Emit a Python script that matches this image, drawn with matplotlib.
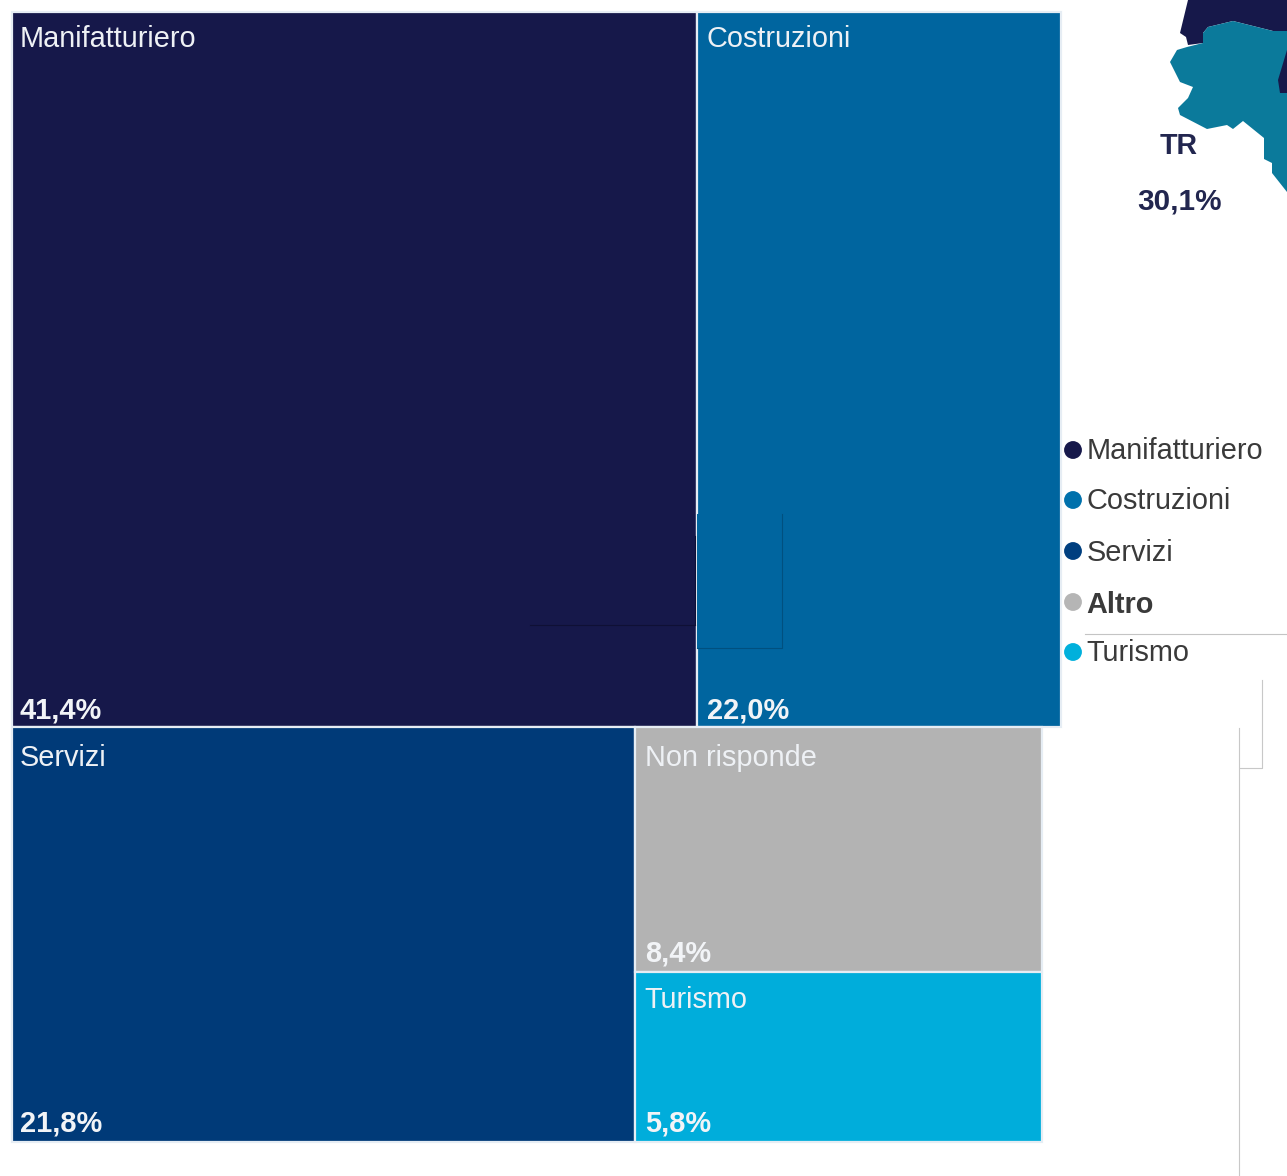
import matplotlib.pyplot as plt
from matplotlib.patches import Rectangle, Polygon

plt.rcParams['font.family'] = ['Liberation Sans', 'DejaVu Sans']

# tile values, %
top_names = ["Manifatturiero", "Costruzioni"]
top_values = [41.4, 22.0]
top_colors = ["#16184A", "#00659F"]
left_name = "Servizi"
left_value = 21.8
left_color = "#003A78"
stack_names = ["Non risponde", "Turismo"]
stack_values = [8.4, 5.8]
stack_colors = ["#B3B3B3", "#00ADDB"]

legend_names = ["Manifatturiero", "Costruzioni", "Servizi", "Altro", "Turismo"]
legend_colors = ["#16184A", "#0071AC", "#003F7F", "#B5B5B5", "#00B0DC"]
legend_y = [450, 500, 551, 602, 652]
legend_text_y = [451, 501, 553, 605, 653]
legend_bold = [False, False, False, True, False]

region_name = "TR"
region_value = "30,1%"

W, H = 1287, 1176
AREA_TOP = 11845.0  # px^2 per percentage point
AREA_BOTTOM = 11860.0
X0, Y0 = 11.5, 11.5
TOP_H = 715.5
BOTTOM_H = 414.5

fig = plt.figure(figsize=(W / 100, H / 100), dpi=100)
ax = fig.add_axes([0, 0, 1, 1])
ax.set_xlim(0, W)
ax.set_ylim(H, 0)
ax.axis("off")


def fmt(v):
    return f"{v:.1f}".replace(".", ",") + "%"


def tile(x, y, w, h, name, value, color, name_off, pct_off, inset=8.5):
    ax.add_patch(Rectangle((x, y), w, h, fc=color, ec="#E6EDF4", lw=1.6, zorder=2))
    ax.text(x + inset, y + name_off, name, color="#EEF1F5", fontsize=20.8,
            va="center", ha="left", zorder=5)
    ax.text(x + inset, y + h - pct_off, fmt(value), color="#F2F4F7", fontsize=20.9,
            fontweight="bold", va="center", ha="left", zorder=5)


# top row
x = X0
for n, v, c, ins in zip(top_names, top_values, top_colors, [8.5, 10.0]):
    w = v * AREA_TOP / TOP_H
    tile(x, Y0, w, TOP_H, n, v, c, 27.5, 16.5, ins)
    x += w

# bottom row
y1 = Y0 + TOP_H
w = left_value * AREA_BOTTOM / BOTTOM_H
tile(X0, y1, w, BOTTOM_H, left_name, left_value, left_color, 30.5, 17.5)
x = X0 + w
stack_w = sum(stack_values) * AREA_BOTTOM / BOTTOM_H
y = y1
for n, v, c, no, po in zip(stack_names, stack_values, stack_colors, [30.5, 27.5], [18.5, 17.5]):
    h = v * AREA_BOTTOM / stack_w
    tile(x, y, stack_w, h, n, v, c, no, po, 9.5)
    y += h

# stray shapes left over inside the tiles
ax.plot([530, 695], [625, 625], color="#0F1035", lw=0.8, zorder=3)
ax.plot([695, 695], [536, 625], color="#0F1035", lw=0.8, zorder=3)
ax.add_patch(Rectangle((697, 514), 85, 134, fc="#00659F", ec="none", zorder=3))
ax.plot([782, 782, 697], [514, 648, 648], color="#00507F", lw=0.8, zorder=4)

# map fragment
ax.add_patch(Polygon([(1188, 0), (1180, 33), (1186, 37), (1188, 45), (1203, 43),
                      (1203, 33), (1208, 27), (1233, 21), (1273, 31), (1287, 31),
                      (1287, 0)], fc="#16184A", ec="none", zorder=1))
ax.add_patch(Polygon([(1208, 27), (1233, 21), (1273, 31), (1287, 31), (1287, 192),
                      (1272, 173), (1272, 163), (1264, 159), (1264, 138), (1243, 121),
                      (1233, 129), (1227, 125), (1207, 129), (1180, 115), (1178, 108),
                      (1188, 98), (1193, 87), (1180, 82), (1170, 62), (1177, 50),
                      (1187, 47), (1203, 43), (1203, 33)],
                     fc="#0B7A9B", ec="none", zorder=1))
ax.add_patch(Polygon([(1287, 50), (1278, 80), (1280, 93), (1287, 93)],
                     fc="#16184A", ec="none", zorder=1))
ax.text(1179, 145.5, region_name, color="#22264F", fontsize=20.6, fontweight="bold",
        ha="center", va="center")
ax.text(1179.5, 201, region_value, color="#22264F", fontsize=21.4, fontweight="bold",
        ha="center", va="center")

# legend
ax.scatter([1073] * len(legend_y), legend_y, s=165, c=legend_colors, linewidths=0, zorder=3)
for n, ly, b in zip(legend_names, legend_text_y, legend_bold):
    ax.text(1086.5, ly, n, color="#3A3A3A", fontsize=20.8,
            fontweight="bold" if b else "normal", ha="left", va="center")

# thin leftover rules
ax.plot([1085, 1287], [633.5, 633.5], color="#C4C4C4", lw=0.8)
ax.plot([1262, 1262, 1239.5], [680, 768, 768], color="#C8C8C8", lw=0.8)
ax.plot([1239, 1239], [728, 1176], color="#C8C8C8", lw=0.8)

fig.savefig("out.png", dpi=100)
